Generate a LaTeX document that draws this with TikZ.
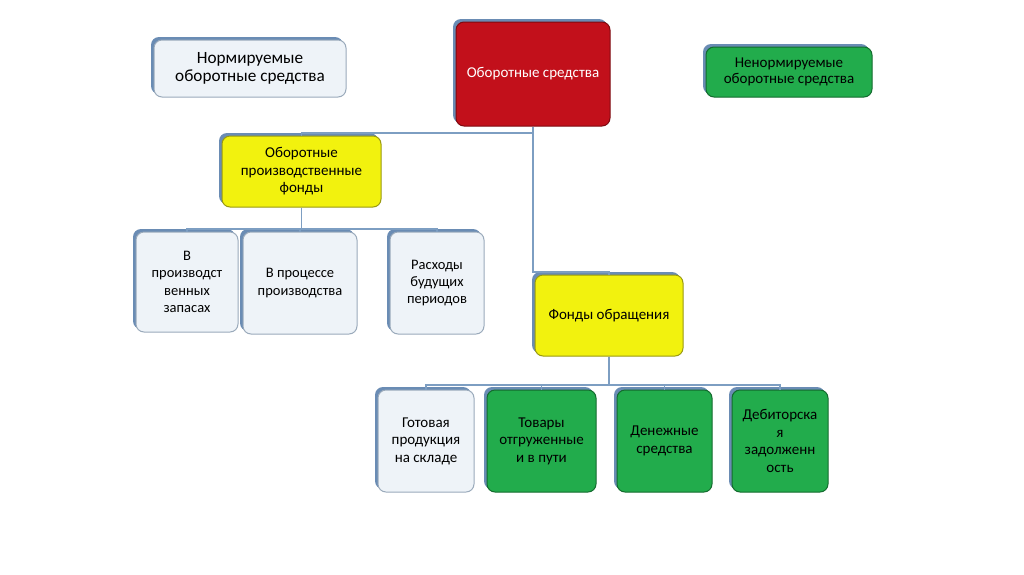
\documentclass[tikz,border=0pt]{standalone}
\usepackage{fontspec}
\setmainfont{Carlito}
\usetikzlibrary{shadows}
\definecolor{shblue}{HTML}{6A8CB4}
\definecolor{lineblue}{HTML}{7D9EC2}
\definecolor{lightfill}{HTML}{EEF3F8}
\definecolor{lightedge}{HTML}{9AAABB}
\definecolor{redfill}{HTML}{C2101B}
\definecolor{rededge}{HTML}{7E0A10}
\definecolor{yelfill}{HTML}{F2F20E}
\definecolor{yeledge}{HTML}{9A9A10}
\definecolor{grnfill}{HTML}{22AC4C}
\definecolor{grnedge}{HTML}{136B2E}
\tikzset{
  box/.style={rounded corners=8pt, inner sep=0pt, align=center, line width=1pt,
    drop shadow={shadow xshift=-3pt, shadow yshift=3pt, fill=shblue, opacity=1},
    font=\fontsize{15}{17.5}\selectfont},
  lightbox/.style={box, fill=lightfill, draw=lightedge},
  redbox/.style={box, fill=redfill, draw=rededge, text=white},
  yelbox/.style={box, fill=yelfill, draw=yeledge},
  grnbox/.style={box, fill=grnfill, draw=grnedge},
  rowtwo/.style={font=\fontsize{14.5}{17.3}\selectfont},
  conn/.style={draw=lineblue, line width=1.2pt}
}
\begin{document}
\begin{tikzpicture}[x=1pt,y=-1pt]
\useasboundingbox[fill=white] (0,0) rectangle (1024,574);

\node[lightbox, minimum width=192pt, minimum height=57pt, font=\fontsize{17.2}{18.5}\selectfont] (norm) at (250,68.5) {Нормируемые\\оборотные средства};
\node[redbox, minimum width=154pt, minimum height=104pt] (red) at (533,74) {Оборотные средства};
\node[grnbox, minimum width=166pt, minimum height=50pt, font=\fontsize{15}{16.5}\selectfont] (nenorm) at (789,72) {Ненормируемые\\оборотные средства};

\node[yelbox, minimum width=159pt, minimum height=71pt] (opf) at (301.5,171.5) {Оборотные\\производственные\\фонды};
\node[lightbox, rowtwo, minimum width=102pt, minimum height=100pt] (c1) at (187,282) {В\\производст\\венных\\запасах};
\node[lightbox, rowtwo, minimum width=114pt, minimum height=102pt] (c2) at (300,283) {В процессе\\производства};
\node[lightbox, rowtwo, minimum width=94pt, minimum height=102pt] (c3) at (437,283) {Расходы\\будущих\\периодов};

\node[yelbox, minimum width=148pt, minimum height=81pt] (fo) at (609,315.5) {Фонды обращения};
\node[lightbox, minimum width=96pt, minimum height=102pt] (d1) at (426,441) {Готовая\\продукция\\на складе};
\node[grnbox, minimum width=109pt, minimum height=102pt] (d2) at (541.5,441) {Товары\\отгруженные\\и в пути};
\node[grnbox, minimum width=95pt, minimum height=102pt] (d3) at (664.5,441) {Денежные\\средства};
\node[grnbox, minimum width=96pt, minimum height=102pt] (d4) at (780,441) {Дебиторска\\я\\задолженн\\ость};

% connectors
\coordinate (ta) at (300,133);
\coordinate (tb) at (300,272);
\draw[conn] (red.south) -- (red.south |- ta) -| (opf.north);
\draw[conn] (red.south) -- (red.south |- tb) -| (fo.north);

\coordinate (b1) at (300,229);
\draw[conn] (opf.south) -- (opf.south |- b1);
\draw[conn] (c1.north) -- (c1.north |- b1) -- (c3.north |- b1) -- (c3.north);
\draw[conn] (c2.north) -- (c2.north |- b1);

\coordinate (b2) at (600,385);
\draw[conn] (fo.south) -- (fo.south |- b2);
\draw[conn] (d1.north) -- (d1.north |- b2) -- (d4.north |- b2) -- (d4.north);
\draw[conn] (d2.north) -- (d2.north |- b2);
\draw[conn] (d3.north) -- (d3.north |- b2);
\end{tikzpicture}
\end{document}
